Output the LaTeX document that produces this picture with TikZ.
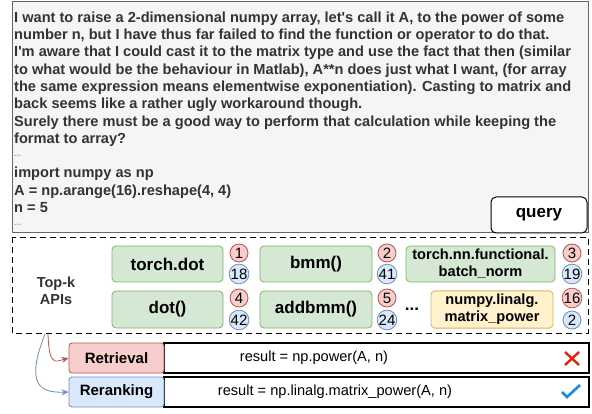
\documentclass[tikz,border=0pt]{standalone}
\usepackage{fontspec}
\setmainfont{Liberation Sans}
\usetikzlibrary{arrows.meta}

\definecolor{qfill}{HTML}{F5F5F5}
\definecolor{qline}{HTML}{666666}
\definecolor{qtext}{HTML}{333333}
\definecolor{gfill}{HTML}{D5E8D4}
\definecolor{gline}{HTML}{82B366}
\definecolor{yfill}{HTML}{FFF2CC}
\definecolor{yline}{HTML}{D6B656}
\definecolor{rfill}{HTML}{F8CECC}
\definecolor{rline}{HTML}{B85450}
\definecolor{bfill}{HTML}{DAE8FC}
\definecolor{bline}{HTML}{6C8EBF}
\definecolor{xred}{HTML}{E0240F}
\definecolor{tickblue}{HTML}{1C8ADB}

\tikzset{
  api/.style={draw=gline, fill=gfill, rounded corners=4pt, line width=0.8pt,
    align=center, font=\bfseries\fontsize{17}{19}\selectfont},
  rankr/.style={circle, draw=rline, fill=rfill, minimum size=18pt, inner sep=0pt,
    line width=0.8pt, font=\fontsize{15}{15}\selectfont},
  rankb/.style={rankr, draw=bline, fill=bfill},
  stage/.style={draw, rounded corners=3pt, line width=0.8pt, minimum width=95pt,
    minimum height=30pt, font=\bfseries\fontsize{15}{15}\selectfont},
  answer/.style={font=\fontsize{14.6}{15}\selectfont},
}

\begin{document}
\begin{tikzpicture}[x=1pt, y=-1pt]
  \useasboundingbox (0,0) rectangle (592,414);

  % query
  \draw[qline, fill=qfill, line width=1pt] (12,2) rectangle (588,233);
  \node[anchor=north west, inner sep=0pt, align=left, text=qtext,
        font=\bfseries\fontsize{14.6}{17.3}\selectfont] (question) at (14,11.5) {%
    I want to raise a 2-dimensional numpy array, let\textquotesingle s call it A, to the power of some\\
    number n, but I have thus far failed to find the function or operator to do that.\\
    I\textquotesingle m aware that I could cast it to the matrix type and use the fact that then (similar\\
    to what would be the behaviour in Matlab), A**n does just what I want, (for array\\
    the same expression means elementwise exponentiation). Casting to matrix and\\
    back seems like a rather ugly workaround though.\\
    Surely there must be a good way to perform that calculation while keeping the\\
    format to array?\\
    {\mdseries\fontsize{7}{7}\selectfont\textasciigrave\textasciigrave\textasciigrave}\\
    import numpy as np\\
    A = np.arange(16).reshape(4, 4)\\
    n = 5\\
    {\mdseries\fontsize{7}{7}\selectfont\textasciigrave\textasciigrave\textasciigrave}};
  \node[draw, fill=white, rounded corners=5pt, line width=1pt, minimum width=96pt,
        minimum height=36pt, font=\bfseries\fontsize{17}{17}\selectfont] (query) at (539,215) {query};

  % top-k candidates
  \draw[dashed, dash pattern=on 6pt off 4pt, line width=0.9pt] (12,237) rectangle (588,333);
  \node[text=qtext, align=center, minimum width=60pt, minimum height=40pt,
        font=\bfseries\fontsize{14.5}{17}\selectfont] (topk) at (56,291) {Top-k\\APIs};

  \node[api, minimum width=111pt, minimum height=36pt] (a1) at (167.5,264) {torch.dot};
  \node[api, minimum width=111pt, minimum height=37pt] (a4) at (167.5,309.5) {dot()};
  \node[api, minimum width=112pt, minimum height=36pt] (a2) at (316,264) {bmm()};
  \node[api, minimum width=112pt, minimum height=37pt] (a5) at (316,309.5) {addbmm()};
  \node[api, minimum width=149pt, minimum height=36pt, font=\bfseries\fontsize{14.6}{17}\selectfont]
    (a3) at (480.5,264) {torch.nn.functional.\\batch\_norm};
  \node[api, draw=yline, fill=yfill, minimum width=122pt, minimum height=37pt,
    font=\bfseries\fontsize{14.6}{17}\selectfont] (a16) at (492,309.5) {numpy.linalg.\\matrix\_power};
  \node[font=\bfseries\fontsize{17}{17}\selectfont] (dots) at (412,309) {...};

  % retrieval rank (red) and reranked rank (blue)
  \node[rankr] (r1) at (239,253) {1};
  \node[rankb] (b1) at (239,274) {18};
  \node[rankr] (r4) at (239,298) {4};
  \node[rankb] (b4) at (239,320) {42};
  \node[rankr] (r2) at (387,253) {2};
  \node[rankb] (b2) at (387,274) {41};
  \node[rankr] (r5) at (387,298) {5};
  \node[rankb] (b5) at (387,320) {24};
  \node[rankr] (r3) at (572,253) {3};
  \node[rankb] (b3) at (572,274) {19};
  \node[rankr] (r16) at (572,298) {16};
  \node[rankb] (b16) at (572,320) {2};

  % results
  \node[draw, line width=1.2pt, minimum width=425pt, minimum height=30pt] (res1) at (376.5,358) {};
  \node[draw, line width=1.2pt, minimum width=425pt, minimum height=30pt] (res2) at (376.5,392) {};
  \node[stage, draw=rline, fill=rfill] (retr) at (116.5,358) {Retrieval};
  \node[stage, draw=bline, fill=bfill] (rerank) at (116.5,392) {Reranking};
  \node[answer] (ans1) at (314,358) {result = np.power(A, n)};
  \node[answer] (ans2) at (335,392) {result = np.linalg.matrix\_power(A, n)};

  \coordinate (cross) at (572,358.5);
  \coordinate (tick) at (571,392);
  \draw[xred, line width=2.4pt] ([shift={(-7,-6.5)}]cross) -- ([shift={(7,6.5)}]cross)
    ([shift={(-7,6.5)}]cross) -- ([shift={(7,-6.5)}]cross);
  \draw[tickblue, line width=2.6pt] ([shift={(-9,0)}]tick) -- ([shift={(-4,5)}]tick) -- ([shift={(9,-7)}]tick);

  % arrows from the candidate list
  \coordinate (outr) at (48,334);
  \coordinate (outb) at (45,334);
  \draw[rline, line width=0.8pt, -{Stealth[length=7pt,width=6pt]}]
    (outr) .. controls (49,366) and (55,362) .. (retr.west);
  \draw[bline, line width=0.8pt, -{Stealth[length=7pt,width=6pt]}]
    (outb) .. controls (25,385) and (40,393) .. (rerank.west);
\end{tikzpicture}
\end{document}
